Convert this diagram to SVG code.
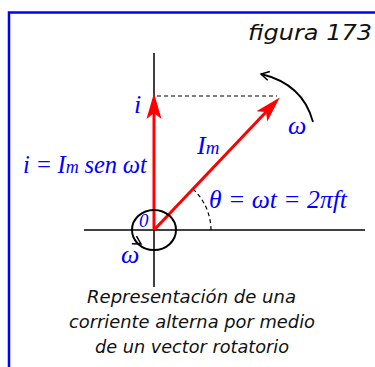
<svg xmlns="http://www.w3.org/2000/svg" width="375" height="367" viewBox="0 0 375 367">
<style>
.frame{fill:none;stroke:#0000ff;stroke-width:2.5}
.axis{stroke:#000;stroke-width:1.5;fill:none}
.vec{stroke:#ff0000;stroke-width:3;fill:none}
.dash{stroke:#000;stroke-width:1.2;stroke-dasharray:4 3;fill:none}
.math{font-family:"Liberation Serif","Times New Roman",serif;font-style:italic;fill:#0000ff}
.cap{font-family:"DejaVu Sans",Verdana,sans-serif;font-style:italic;fill:#111}
</style>
<defs>
<marker id="redhead" viewBox="0 -8 27 16" refX="6" refY="0" markerWidth="27" markerHeight="16" markerUnits="userSpaceOnUse" orient="auto">
<path d="M26,0 L0,-7.5 L6,0 L0,7.5 Z" fill="#ff0000"/>
</marker>
<marker id="openhead" viewBox="-10 -6 12 12" refX="0" refY="0" markerWidth="12" markerHeight="12" markerUnits="userSpaceOnUse" orient="auto">
<path d="M-8,-4.5 L0,0 L-8,4.5" fill="none" stroke="#000" stroke-width="1.5"/>
</marker>
</defs>
<path class="frame" d="M9,380 V12.5 H376"/>
<text class="cap" x="248" y="40" font-size="22" textLength="124" lengthAdjust="spacingAndGlyphs">figura 173</text>
<g id="connectors">
<line class="axis" x1="84" y1="230" x2="365" y2="230"/>
<line class="axis" x1="154" y1="53" x2="154" y2="287"/>
<line class="dash" x1="157" y1="96" x2="277" y2="96"/>
<path class="dash" d="M193,189 A57,57 0 0 1 211,230" stroke-dasharray="3 3"/>
<line class="vec" x1="154" y1="230" x2="154" y2="113" marker-end="url(#redhead)"/>
<line class="vec" x1="154" y1="230" x2="266" y2="112" marker-end="url(#redhead)"/>
<path d="M313,122 Q303,84 261,74" fill="none" stroke="#000" stroke-width="1.8" marker-end="url(#openhead)"/>
<ellipse cx="154" cy="230" rx="22" ry="20" fill="none" stroke="#000" stroke-width="2"/>
<path d="M136,241 L141,244" fill="none" stroke="none" marker-end="url(#openhead)"/>
</g>
<g id="labels">
<text class="math" x="134" y="113" font-size="26">i</text>
<text class="math" x="197" y="154" font-size="26">I<tspan font-size="19">m</tspan></text>
<text class="math" x="288" y="134" font-size="26">ω</text>
<text class="math" x="23" y="173" font-size="24.5" word-spacing="-0.5">i = I<tspan font-size="18">m</tspan> sen ωt</text>
<text class="math" x="139" y="227" font-size="19">0</text>
<text class="math" x="121" y="263" font-size="26">ω</text>
<text class="math" x="209" y="208" font-size="26" textLength="138" lengthAdjust="spacingAndGlyphs">θ = ωt = 2πft</text>
</g>
<g id="caption">
<text class="cap" x="87" y="303" font-size="17" textLength="209" lengthAdjust="spacingAndGlyphs">Representación de una</text>
<text class="cap" x="69" y="328" font-size="17" textLength="246" lengthAdjust="spacingAndGlyphs">corriente alterna por medio</text>
<text class="cap" x="95" y="353" font-size="17" textLength="194" lengthAdjust="spacingAndGlyphs">de un vector rotatorio</text>
</g>
</svg>
